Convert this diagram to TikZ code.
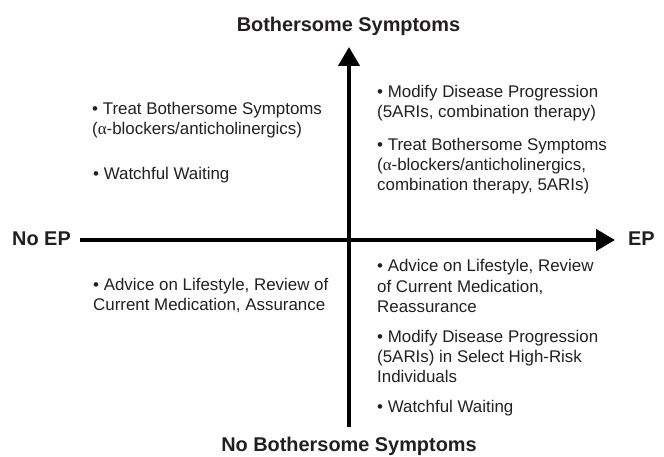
\documentclass[tikz,border=0pt]{standalone}
\usepackage{fontspec}
\setmainfont{Liberation Sans}
\newfontfamily\greekfont{Liberation Serif}
\usetikzlibrary{arrows.meta, positioning}
\definecolor{inkgray}{RGB}{35,31,32}
\newcommand{\alphatxt}{{\greekfont α}}
\tikzset{
    axislabel/.style={
        inner sep=0pt,
        text=inkgray,
        font=\fontsize{19.9}{22}\selectfont\bfseries
    },
    note/.style={
        inner sep=0pt,
        text=inkgray,
        align=left,
        anchor=base west,
        font=\fontsize{16.9}{20}\selectfont
    },
    axis/.style={
        draw=black,
        line width=4.2pt,
        -{Triangle[length=19pt, width=21pt]}
    }
}
\begin{document}
\begin{tikzpicture}[x=1pt, y=-1pt]
\useasboundingbox (0,0) rectangle (664,457);
% Axis labels
\node[axislabel, anchor=base] (bs) at (348.5,32) {Bothersome Symptoms};
\node[axislabel, anchor=base] (nobs) at (349,451) {No Bothersome Symptoms};
\node[axislabel, anchor=base west] (noep) at (12,246) {No EP};
\node[axislabel, anchor=base west] (ep) at (628,246) {EP};
% Axes
\coordinate (xstart) at (80,240);
\coordinate (xend) at (615,240);
\coordinate (ystart) at (349,427);
\coordinate (yend) at (349,47);
\draw[axis] (xstart) -- (xend);
\draw[axis] (ystart) -- (yend);
% Upper left (positions give the last baseline)
\node[note] (tl1) at (92,135) {• Treat Bothersome Symptoms\\(\alphatxt-blockers/anticholinergics)};
\node[note] (tl2) at (93,180) {• Watchful Waiting};
% Upper right
\node[note] (tr1) at (377,118) {• Modify Disease Progression\\(5ARIs, combination therapy)};
\node[note] (tr2) at (377,191) {• Treat Bothersome Symptoms\\(\alphatxt-blockers/anticholinergics,\\combination therapy, 5ARIs)};
% Lower left
\node[note] (bl1) at (93,310) {• Advice on Lifestyle, Review of\\Current Medication, Assurance};
% Lower right
\node[note] (br1) at (377,312) {• Advice on Lifestyle, Review\\of Current Medication,\\Reassurance};
\node[note] (br2) at (377,382) {• Modify Disease Progression\\(5ARIs) in Select High-Risk\\Individuals};
\node[note] (br3) at (377,412) {• Watchful Waiting};
\end{tikzpicture}
\end{document}
